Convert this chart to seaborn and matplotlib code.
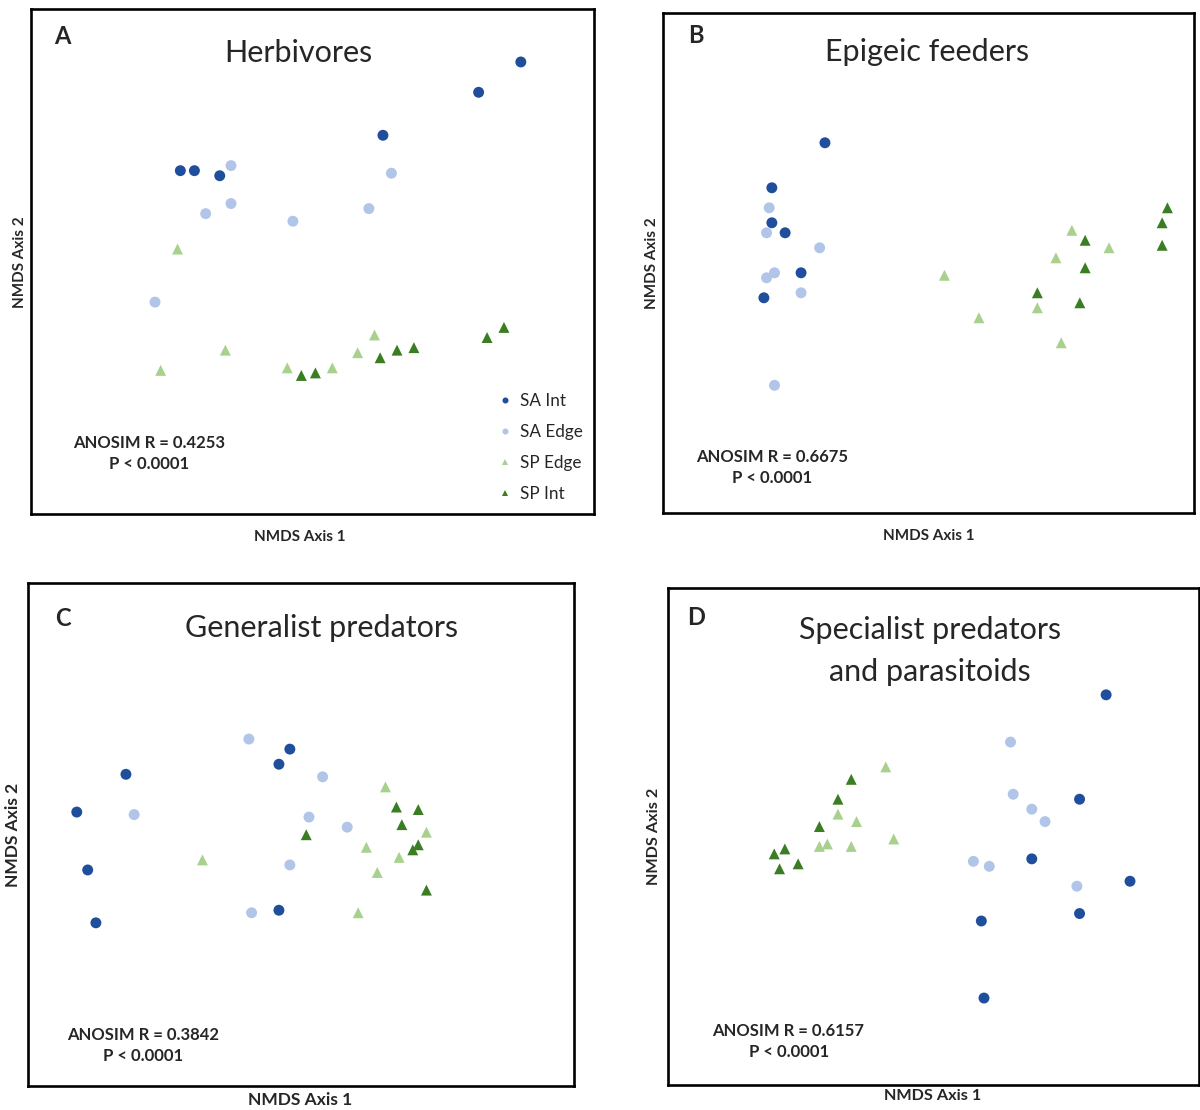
import numpy as np
import pandas as pd
import matplotlib
matplotlib.use('Agg')
import matplotlib.pyplot as plt
import seaborn as sns

# Grupos e cores (mesma ordem da legenda)
groups = ['SA Int', 'SA Edge', 'SP Edge', 'SP Int']
colors = ['#1f4e9c', '#b0c5e8', '#a9d18e', '#3a7d22']
markers = ['o', 'o', '^', '^']

# Scores NMDS estimados (eixo 1, eixo 2) por painel e grupo
# A - Herbivores
a_sa_int_x = [-0.47, -0.42, -0.33, 0.25, 0.59, 0.74]
a_sa_int_y = [0.36, 0.36, 0.34, 0.50, 0.67, 0.79]
a_sa_edge_x = [-0.29, -0.38, -0.29, -0.07, 0.20, 0.28, -0.56]
a_sa_edge_y = [0.38, 0.19, 0.23, 0.16, 0.21, 0.35, -0.16]
a_sp_edge_x = [-0.48, -0.31, -0.54, -0.09, 0.07, 0.16, 0.22]
a_sp_edge_y = [0.05, -0.35, -0.43, -0.42, -0.42, -0.36, -0.29]
a_sp_int_x = [-0.04, 0.01, 0.24, 0.30, 0.36, 0.62, 0.68]
a_sp_int_y = [-0.45, -0.44, -0.38, -0.35, -0.34, -0.30, -0.26]

# B - Epigeic feeders
b_sa_int_x = [-0.39, -0.59, -0.59, -0.54, -0.48, -0.62]
b_sa_int_y = [0.48, 0.30, 0.16, 0.12, -0.04, -0.14]
b_sa_edge_x = [-0.60, -0.61, -0.41, -0.58, -0.61, -0.48, -0.58]
b_sa_edge_y = [0.22, 0.12, 0.06, -0.04, -0.06, -0.12, -0.49]
b_sp_edge_x = [0.06, 0.19, 0.41, 0.48, 0.54, 0.68, 0.50]
b_sp_edge_y = [-0.05, -0.22, -0.18, 0.02, 0.13, 0.06, -0.32]
b_sp_int_x = [0.41, 0.59, 0.59, 0.57, 0.90, 0.88, 0.88]
b_sp_int_y = [-0.12, 0.09, -0.02, -0.16, 0.22, 0.16, 0.07]

# C - Generalist predators
c_sa_int_x = [-0.82, -0.64, -0.78, -0.75, -0.04, -0.08, -0.08]
c_sa_int_y = [0.09, 0.24, -0.14, -0.35, 0.34, 0.28, -0.30]
c_sa_edge_x = [-0.61, -0.19, 0.08, 0.03, 0.17, -0.04, -0.18]
c_sa_edge_y = [0.08, 0.38, 0.23, 0.07, 0.03, -0.12, -0.31]
c_sp_edge_x = [-0.36, 0.31, 0.24, 0.46, 0.36, 0.28, 0.21]
c_sp_edge_y = [-0.10, 0.19, -0.05, 0.01, -0.09, -0.15, -0.31]
c_sp_int_x = [0.02, 0.35, 0.43, 0.37, 0.43, 0.41, 0.46]
c_sp_int_y = [0.00, 0.11, 0.10, 0.04, -0.04, -0.06, -0.22]

# D - Specialist predators and parasitoids
d_sa_int_x = [0.65, 0.55, 0.37, 0.74, 0.55, 0.18, 0.19]
d_sa_int_y = [0.57, 0.15, -0.09, -0.18, -0.31, -0.34, -0.65]
d_sa_edge_x = [0.29, 0.30, 0.37, 0.42, 0.15, 0.21, 0.54]
d_sa_edge_y = [0.38, 0.17, 0.11, 0.06, -0.10, -0.12, -0.20]
d_sp_edge_x = [-0.18, -0.36, -0.29, -0.43, -0.40, -0.31, -0.15]
d_sp_edge_y = [0.28, 0.09, 0.06, -0.04, -0.03, -0.04, -0.01]
d_sp_int_x = [-0.31, -0.36, -0.43, -0.60, -0.56, -0.51, -0.58]
d_sp_int_y = [0.23, 0.15, 0.04, -0.07, -0.05, -0.11, -0.13]

panel_letters = ['A', 'B', 'C', 'D']
panel_titles = ['Herbivores', 'Epigeic feeders', 'Generalist predators',
                'Specialist predators\nand parasitoids']
anosim_r = ['0.4253', '0.6675', '0.3842', '0.6157']
p_values = ['< 0.0001', '< 0.0001', '< 0.0001', '< 0.0001']


def make_frame(xs, ys):
    rows = []
    for g, x, y in zip(groups, xs, ys):
        for xi, yi in zip(x, y):
            rows.append({'axis1': xi, 'axis2': yi, 'group': g})
    return pd.DataFrame(rows)


frames = [
    make_frame([a_sa_int_x, a_sa_edge_x, a_sp_edge_x, a_sp_int_x],
               [a_sa_int_y, a_sa_edge_y, a_sp_edge_y, a_sp_int_y]),
    make_frame([b_sa_int_x, b_sa_edge_x, b_sp_edge_x, b_sp_int_x],
               [b_sa_int_y, b_sa_edge_y, b_sp_edge_y, b_sp_int_y]),
    make_frame([c_sa_int_x, c_sa_edge_x, c_sp_edge_x, c_sp_int_x],
               [c_sa_int_y, c_sa_edge_y, c_sp_edge_y, c_sp_int_y]),
    make_frame([d_sa_int_x, d_sa_edge_x, d_sp_edge_x, d_sp_int_x],
               [d_sa_int_y, d_sa_edge_y, d_sp_edge_y, d_sp_int_y]),
]

sns.set_theme(style='white')
plt.rcParams['font.family'] = ['Lato', 'DejaVu Sans']

fig = plt.figure(figsize=(12, 11.1), dpi=100)

# posições dos painéis [left, bottom, width, height] em fração da figura
positions = [
    [0.026, 0.5365, 0.469, 0.4555],
    [0.5525, 0.538, 0.4425, 0.4505],
    [0.023, 0.0212, 0.4553, 0.4536],
    [0.5567, 0.0225, 0.4425, 0.4478],
]
# posições dos textos (fração do eixo)
letter_pos = [(0.056, 0.946), (0.062, 0.954), (0.065, 0.930), (0.052, 0.940)]
title_pos = [(0.474, 0.913), (0.497, 0.921), (0.538, 0.910), (0.493, 0.873)]
stat_pos = [(0.209, 0.121), (0.205, 0.090), (0.212, 0.081), (0.227, 0.0875)]
xlabel_x = [0.477, 0.501, 0.4985, 0.499]
xlabel_size = [11, 11, 12.5, 11.7]
ylabel_size = [11, 11, 12.5, 11.7]
xlabel_pad = [11, 12, 4, 3]
ylabel_pad = [3, 3, 5, 5]

palette = dict(zip(groups, colors))
marker_map = dict(zip(groups, markers))

for i, df in enumerate(frames):
    ax = fig.add_axes(positions[i])
    sns.scatterplot(data=df, x='axis1', y='axis2', hue='group', style='group',
                    hue_order=groups, style_order=groups, palette=palette,
                    markers=marker_map, s=62, edgecolor='none', linewidth=0,
                    legend=(i == 0), ax=ax)
    ax.set_xlim(-1, 1)
    ax.set_ylim(-1, 1)
    ax.set_xticks([])
    ax.set_yticks([])
    for sp in ax.spines.values():
        sp.set_color('black')
        sp.set_linewidth(1.9)
    ax.set_xlabel('NMDS Axis 1', fontsize=xlabel_size[i], fontweight='bold',
                  labelpad=xlabel_pad[i], x=xlabel_x[i])
    ax.set_ylabel('NMDS Axis 2', fontsize=ylabel_size[i], fontweight='bold',
                  labelpad=ylabel_pad[i])

    ax.text(*letter_pos[i], panel_letters[i], transform=ax.transAxes,
            fontsize=17, fontweight='bold', ha='center', va='center')
    ax.text(*title_pos[i], panel_titles[i], transform=ax.transAxes,
            fontsize=22, ha='center', va='center', linespacing=1.6)
    ax.text(*stat_pos[i], f'ANOSIM R = {anosim_r[i]}\nP {p_values[i]}',
            transform=ax.transAxes, fontsize=12, fontweight='bold',
            ha='center', va='center', linespacing=1.4)

    if i == 0:
        handles, labels = ax.get_legend_handles_labels()
        ax.legend(handles, labels, loc='lower right', bbox_to_anchor=(1.007, -0.006),
                  frameon=False, markerscale=0.55, fontsize=12.3,
                  labelspacing=0.88, handletextpad=0.25, handlelength=1.2)

fig.savefig('out.png', dpi=100)
